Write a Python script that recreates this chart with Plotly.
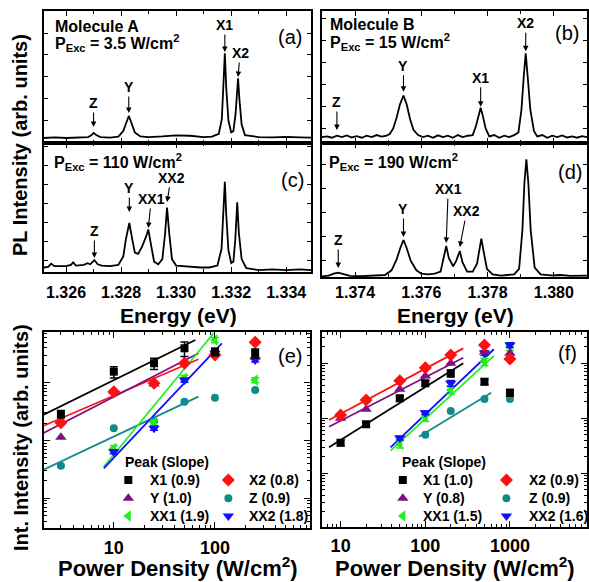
import plotly.graph_objects as go

W, H = 589, 582
FONT = "Liberation Sans"

# ---------------- PL spectra (energy in eV, intensity in arb. units) ----------------
A_ENERGY = [1.3252, 1.3256, 1.3260, 1.3264, 1.3268, 1.32692, 1.32700, 1.32710, 1.32725, 1.3276,
            1.3279, 1.32808, 1.32818, 1.32828, 1.32838, 1.32850, 1.32870, 1.3290, 1.3295, 1.3300,
            1.3305, 1.3310, 1.3313, 1.33155, 1.33166, 1.33172, 1.33177, 1.33182, 1.33190, 1.33200,
            1.33208, 1.33216, 1.33221, 1.33225, 1.33230, 1.33238, 1.33250, 1.3330, 1.3335, 1.3340,
            1.3345, 1.3349]
A_INTENSITY = [0.038, 0.042, 0.038, 0.040, 0.045, 0.058, 0.076, 0.060, 0.045, 0.040,
               0.048, 0.090, 0.150, 0.205, 0.150, 0.080, 0.050, 0.045, 0.050, 0.058,
               0.055, 0.045, 0.048, 0.070, 0.180, 0.420, 0.680, 0.420, 0.170, 0.080,
               0.090, 0.220, 0.380, 0.490, 0.330, 0.140, 0.060, 0.045, 0.042, 0.046,
               0.042, 0.040]

B_ENERGY = [1.37300, 1.37315, 1.37330, 1.37345, 1.37360, 1.37375, 1.37390, 1.37405, 1.37420, 1.37435,
            1.37450, 1.37465, 1.37480, 1.37495, 1.37505, 1.37515, 1.37525, 1.37535, 1.37546, 1.37556,
            1.37566, 1.37576, 1.37590, 1.37605, 1.37620, 1.37635, 1.37650, 1.37665, 1.37680, 1.37695,
            1.37710, 1.37725, 1.37740, 1.37755, 1.37765, 1.37772, 1.37779, 1.37786, 1.37794, 1.37805,
            1.37820, 1.37835, 1.37850, 1.37865, 1.37880, 1.37893, 1.37902, 1.37909, 1.37915, 1.37921,
            1.37929, 1.37940, 1.37950, 1.37965, 1.37980, 1.37995, 1.38010, 1.38025, 1.38040, 1.38055,
            1.38070, 1.38085, 1.38100]
B_INTENSITY = [0.045, 0.050, 0.040, 0.055, 0.045, 0.058, 0.042, 0.052, 0.040, 0.055,
               0.045, 0.060, 0.048, 0.055, 0.070, 0.110, 0.190, 0.290, 0.360, 0.290,
               0.180, 0.100, 0.060, 0.045, 0.055, 0.040, 0.058, 0.045, 0.055, 0.040,
               0.060, 0.045, 0.055, 0.060, 0.130, 0.200, 0.267, 0.200, 0.110, 0.050,
               0.060, 0.040, 0.055, 0.045, 0.060, 0.080, 0.250, 0.500, 0.679, 0.500,
               0.250, 0.090, 0.050, 0.060, 0.040, 0.055, 0.045, 0.058, 0.042, 0.050,
               0.040, 0.052, 0.045]

C_ENERGY = [1.3252, 1.32535, 1.32546, 1.32558, 1.3258, 1.3260, 1.32618, 1.32626, 1.32636, 1.32650,
            1.32665, 1.32678, 1.32688, 1.32703, 1.32715, 1.32730, 1.3276, 1.3279, 1.32808, 1.32818,
            1.32830, 1.32840, 1.32850, 1.32862, 1.32877, 1.32890, 1.32899, 1.32908, 1.32920, 1.32935,
            1.32950, 1.32960, 1.32967, 1.32975, 1.32985, 1.3300, 1.3305, 1.3309, 1.3312, 1.3315,
            1.33165, 1.33172, 1.33177, 1.33182, 1.33190, 1.33200, 1.33208, 1.33215, 1.33222, 1.33228,
            1.33238, 1.33255, 1.3330, 1.3335, 1.3340, 1.3345, 1.3349]
C_INTENSITY = [0.035, 0.040, 0.065, 0.045, 0.045, 0.045, 0.055, 0.075, 0.050, 0.050,
               0.055, 0.068, 0.060, 0.093, 0.060, 0.050, 0.045, 0.055, 0.120, 0.260,
               0.380, 0.260, 0.150, 0.140, 0.200, 0.270, 0.330, 0.220, 0.080, 0.060,
               0.100, 0.300, 0.500, 0.300, 0.100, 0.050, 0.040, 0.035, 0.035, 0.050,
               0.180, 0.450, 0.700, 0.450, 0.170, 0.070, 0.080, 0.250, 0.540, 0.300,
               0.100, 0.030, 0.015, 0.020, 0.015, 0.020, 0.015]

D_ENERGY = [1.37300, 1.37320, 1.37335, 1.37349, 1.37365, 1.37385, 1.37420, 1.37460, 1.37490, 1.37510,
            1.37525, 1.37537, 1.37546, 1.37555, 1.37568, 1.37585, 1.37600, 1.37620, 1.37640, 1.37658,
            1.37668, 1.37675, 1.37683, 1.37696, 1.37705, 1.37716, 1.37724, 1.37738, 1.37755, 1.37768,
            1.37775, 1.37781, 1.37788, 1.37798, 1.37815, 1.37840, 1.37860, 1.37880, 1.37895, 1.37905,
            1.37911, 1.37917, 1.37923, 1.37930, 1.37942, 1.37960, 1.37990, 1.38020, 1.38050, 1.38080,
            1.38102]
D_INTENSITY = [0.005, 0.010, 0.025, 0.032, 0.022, 0.008, 0.006, 0.008, 0.015, 0.050,
               0.130, 0.220, 0.276, 0.220, 0.120, 0.050, 0.025, 0.020, 0.025, 0.040,
               0.140, 0.231, 0.140, 0.080, 0.120, 0.194, 0.110, 0.040, 0.040, 0.100,
               0.200, 0.286, 0.190, 0.060, 0.020, 0.010, 0.015, 0.020, 0.060, 0.350,
               0.700, 0.878, 0.700, 0.350, 0.070, 0.020, 0.012, 0.015, 0.008, 0.012,
               0.010]

# peak labels: text, energy, arrow tip intensity, label rise (px), label x shift (px)
A_LABELS = ["Z", "Y", "X1", "X2"]
A_LABEL_E = [1.32700, 1.32828, 1.33177, 1.33225]
A_LABEL_TIP = [0.121, 0.227, 0.690, 0.500]
A_LABEL_RISE = [24, 26, 27, 24]
A_LABEL_SHIFT = [0, 0, 0, 2]

B_LABELS = ["Z", "Y", "X1", "X2"]
B_LABEL_E = [1.37345, 1.37546, 1.37779, 1.37915]
B_LABEL_TIP = [0.099, 0.389, 0.275, 0.695]
B_LABEL_RISE = [28, 26, 29, 28]
B_LABEL_SHIFT = [0, 0, 0, 0]

C_LABELS = ["Z", "Y", "XX1", "XX2"]
C_LABEL_E = [1.32703, 1.32830, 1.32899, 1.32967]
C_LABEL_TIP = [0.109, 0.465, 0.341, 0.543]
C_LABEL_RISE = [27, 24, 29, 24]
C_LABEL_SHIFT = [0, 0, 3, 4]

D_LABELS = ["Z", "Y", "XX1", "XX2"]
D_LABEL_E = [1.37349, 1.37546, 1.37675, 1.37716]
D_LABEL_TIP = [0.067, 0.299, 0.254, 0.224]
D_LABEL_RISE = [28, 28, 54, 36]
D_LABEL_SHIFT = [0, 0, 2, 7]

# ---------------- integrated intensity vs power density ----------------
PEAKS = ["X1", "X2", "Y", "Z", "XX1", "XX2"]

E_POWER = [3, 10, 25, 50, 100, 250]
E_X1 = [28.7, 155, 217, 394, 344, 323]
E_X2 = [20.3, 69.9, 97.6, 217, 301, 500]
E_Y = [11.4, 72.0, 95, 231, 340, 278]
E_Z = [3.67, 16.3, 21.8, 46.9, 55, 74.8]
E_XX1 = [None, 7.3, 20.3, 119, 548, 111]
E_XX2 = [None, 6.4, 16.3, 111, 323, 247]
E_X1_ERR = [15, 22, 22, 28, 15, 18]      # percent
E_XX1_ERR = [0, 12, 10, 12, 10, 10]
E_XX2_ERR = [0, 8, 8, 8, 8, 8]
E_SLOPES = [0.9, 0.8, 1.0, 0.9, 1.9, 1.8]
# fit lines: [x_start, x_end], [y_start, y_end]
E_FIT_X1 = ([2.0, 64], [27.6, 548])
E_FIT_X2 = ([2.0, 68.7], [17.8, 254])
E_FIT_Y = ([2.0, 68.7], [13.3, 323])
E_FIT_Z = ([2.0, 68.7], [3.09, 57.3])
E_FIT_XX1 = ([7.96, 97], [3.52, 716])
E_FIT_XX2 = ([7.96, 117], [3.30, 479])

F_POWER = [10, 20, 50, 100, 200, 500, 1000]
F_X1 = [3.6, 7.8, 23.1, 43.3, 65.8, 46.3, 29.2]
F_X2 = [11.5, 21.5, 48.3, 83.2, 141.6, 215, 119.7]
F_Y = [10, 14.6, 33.7, 58.7, 100, 160, 152]
F_Z = [None, None, None, 5.0, 13.6, 22.4, 22.4]
F_XX1 = [None, None, 3.4, 10.4, 32.7, 107, 200]
F_XX2 = [None, None, 4.4, 12.6, 43.3, 154, 215]
F_X1_ERR = [12, 10, 12, 12, 14, 12, 14]
F_XX1_ERR = [0, 0, 15, 15, 15, 15, 15]
F_XX2_ERR = [0, 0, 8, 8, 12, 10, 10]
F_SLOPES = [1.0, 0.9, 0.8, 0.9, 1.5, 1.6]
F_FIT_X1 = ([7.3, 281], [2.97, 100])
F_FIT_X2 = ([7.3, 281], [9.3, 187])
F_FIT_Y = ([7.3, 281], [7.03, 126.5])
F_FIT_Z = ([84, 601], [4.62, 29.2])
F_FIT_XX1 = ([38.9, 646], [2.58, 136])
F_FIT_XX2 = ([38.9, 646], [2.97, 180])

# ---------------- styles ----------------
SYMBOLS = {"X1": "square", "X2": "diamond", "Y": "triangle-up", "Z": "circle",
           "XX1": "triangle-left", "XX2": "triangle-down"}
COLORS = {"X1": "#000000", "X2": "#ff1010", "Y": "#80107f", "Z": "#128a8a",
          "XX1": "#22ee22", "XX2": "#1010ff"}
SIZES = {"X1": 8, "X2": 10, "Y": 10, "Z": 8, "XX1": 10, "XX2": 10}


def xd(p0, p1):
    return [p0 / W, p1 / W]


def yd(top, bottom):
    return [1 - bottom / H, 1 - top / H]


PA = (44, 311, 11, 143)
PB = (322, 587, 11, 143)
PC = (44, 311, 143, 272)
PD = (322, 587, 143, 277)
PE = (44, 310, 332, 528)
PF = (322, 587, 332, 527)

BOLD = dict(family=FONT, color="black", weight="bold")


def base_axis():
    return dict(showline=True, linewidth=2, linecolor="black", mirror="ticks",
                ticks="inside", tickcolor="black", tickwidth=1.3, showgrid=False,
                zeroline=False)


fig = go.Figure()

# ---- spectra ----
spectra = [(A_ENERGY, A_INTENSITY, "x", "y"), (B_ENERGY, B_INTENSITY, "x2", "y2"),
           (C_ENERGY, C_INTENSITY, "x3", "y3"), (D_ENERGY, D_INTENSITY, "x4", "y4")]
for e, i, xa, ya in spectra:
    fig.add_trace(go.Scatter(x=e, y=i, mode="lines", line=dict(color="black", width=1.8),
                             xaxis=xa, yaxis=ya, showlegend=False, hoverinfo="skip"))

# ---- power dependence ----
E_DATA = {"X1": E_X1, "X2": E_X2, "Y": E_Y, "Z": E_Z, "XX1": E_XX1, "XX2": E_XX2}
E_ERR = {"X1": E_X1_ERR, "XX1": E_XX1_ERR, "XX2": E_XX2_ERR}
E_FITS = {"X1": E_FIT_X1, "X2": E_FIT_X2, "Y": E_FIT_Y, "Z": E_FIT_Z, "XX1": E_FIT_XX1, "XX2": E_FIT_XX2}
F_DATA = {"X1": F_X1, "X2": F_X2, "Y": F_Y, "Z": F_Z, "XX1": F_XX1, "XX2": F_XX2}
F_ERR = {"X1": F_X1_ERR, "XX1": F_XX1_ERR, "XX2": F_XX2_ERR}
F_FITS = {"X1": F_FIT_X1, "X2": F_FIT_X2, "Y": F_FIT_Y, "Z": F_FIT_Z, "XX1": F_FIT_XX1, "XX2": F_FIT_XX2}

for power, data, errs, fits, xa, ya in [(E_POWER, E_DATA, E_ERR, E_FITS, "x5", "y5"),
                                        (F_POWER, F_DATA, F_ERR, F_FITS, "x6", "y6")]:
    for p in PEAKS:
        fx, fy = fits[p]
        fig.add_trace(go.Scatter(x=fx, y=fy, mode="lines", line=dict(color=COLORS[p], width=1.8),
                                 xaxis=xa, yaxis=ya, showlegend=False, hoverinfo="skip"))
    for p in ["Z", "XX1", "XX2", "Y", "X2", "X1"]:
        vals = data[p]
        err = None
        if p in errs:
            arr = [(v * pc / 100.0 if v is not None else 0) for v, pc in zip(vals, errs[p])]
            err = dict(type="data", array=arr, color=COLORS[p], thickness=1.5, width=4)
        fig.add_trace(go.Scatter(x=power, y=vals, mode="markers",
                                 marker=dict(symbol=SYMBOLS[p], color=COLORS[p], size=SIZES[p],
                                             line=dict(width=0)),
                                 error_y=err, xaxis=xa, yaxis=ya, showlegend=False))

# ---- custom two-column legends (overlay axes with unit range) ----
annotations = []
for slopes, xa, ya, dom, col_m, col_t, rows, title_pos in [
        (E_SLOPES, "x7", "y7", "x5", (0.317, 0.693), (0.392, 0.762), (0.245, 0.152, 0.061), (0.296, 0.338)),
        (F_SLOPES, "x8", "y8", "x6", (0.305, 0.696), (0.373, 0.772), (0.241, 0.147, 0.056), (0.294, 0.335))]:
    for k, p in enumerate(PEAKS):
        c, r = k % 2, k // 2
        fig.add_trace(go.Scatter(x=[col_m[c]], y=[rows[r]], mode="markers",
                                 marker=dict(symbol=SYMBOLS[p], color=COLORS[p], size=SIZES[p]),
                                 xaxis=xa, yaxis=ya, showlegend=False, hoverinfo="skip"))
        annotations.append(dict(text=f"{p} ({slopes[k]:.1f})", x=col_t[c], y=rows[r],
                                xref=f"{dom} domain", yref=f"y{dom[1:]} domain",
                                xanchor="left", yanchor="middle", showarrow=False,
                                font=dict(size=14, **BOLD)))
    annotations.append(dict(text="Peak (Slope)", x=title_pos[0], y=title_pos[1],
                            xref=f"{dom} domain", yref=f"y{dom[1:]} domain",
                            xanchor="left", yanchor="middle", showarrow=False,
                            font=dict(size=14, **BOLD)))

# ---- peak labels with arrows ----
for labels, es, tips, rises, shifts, xa, ya in [
        (A_LABELS, A_LABEL_E, A_LABEL_TIP, A_LABEL_RISE, A_LABEL_SHIFT, "x", "y"),
        (B_LABELS, B_LABEL_E, B_LABEL_TIP, B_LABEL_RISE, B_LABEL_SHIFT, "x2", "y2"),
        (C_LABELS, C_LABEL_E, C_LABEL_TIP, C_LABEL_RISE, C_LABEL_SHIFT, "x3", "y3"),
        (D_LABELS, D_LABEL_E, D_LABEL_TIP, D_LABEL_RISE, D_LABEL_SHIFT, "x4", "y4")]:
    for t, e, tip, rise, sh in zip(labels, es, tips, rises, shifts):
        annotations.append(dict(text=t, x=e, y=tip, xref=xa, yref=ya, ax=sh, ay=-rise,
                                showarrow=True, arrowhead=2, arrowsize=1.0, arrowwidth=1.1,
                                arrowcolor="black", standoff=0, font=dict(size=14, **BOLD)))

# ---- panel texts ----
def ptxt(text, x, y, xa, size=16, anchor="left", bold=True):
    f = dict(size=size, **BOLD) if bold else dict(size=size, family=FONT, color="black")
    annotations.append(dict(text=text, x=x, y=y, xref=f"{xa} domain",
                            yref=f"y{xa[1:]} domain", xanchor=anchor, yanchor="middle",
                            showarrow=False, font=f))


ptxt("Molecule A", 0.034, 0.879, "x")
ptxt("P<sub>Exc</sub> = 3.5 W/cm<sup>2</sup>", 0.034, 0.755, "x")
ptxt("Molecule B", 0.023, 0.900, "x2")
ptxt("P<sub>Exc</sub> = 15 W/cm<sup>2</sup>", 0.023, 0.765, "x2")
ptxt("P<sub>Exc</sub> = 110 W/cm<sup>2</sup>", 0.030, 0.855, "x3")
ptxt("P<sub>Exc</sub> = 190 W/cm<sup>2</sup>", 0.019, 0.855, "x4")
ptxt("(a)", 0.921, 0.803, "x", 20, "center", False)
ptxt("(b)", 0.925, 0.832, "x2", 20, "center", False)
ptxt("(c)", 0.929, 0.713, "x3", 20, "center", False)
ptxt("(d)", 0.936, 0.784, "x4", 20, "center", False)
ptxt("(e)", 0.925, 0.878, "x5", 20, "center", False)
ptxt("(f)", 0.925, 0.892, "x6", 20, "center", False)

# ---- axis titles ----
def gtxt(text, px, py, size, angle=0):
    annotations.append(dict(text=text, x=px / W, y=1 - py / H, xref="paper", yref="paper",
                            xanchor="center", yanchor="middle", showarrow=False,
                            textangle=angle, font=dict(size=size, **BOLD)))


gtxt("PL Intensity (arb. units)", 20, 145, 20, -90)
gtxt("Int. Intensity (arb. units)", 21, 438, 20, -90)
gtxt("Energy (eV)", 178, 315, 21)
gtxt("Energy (eV)", 455, 315, 21)
gtxt("Power Density (W/cm<sup>2</sup>)", 178, 567, 22)
gtxt("Power Density (W/cm<sup>2</sup>)", 455, 567, 22)

# ---- axes ----
layout = dict(width=W, height=H, margin=dict(l=0, r=0, t=0, b=0),
              paper_bgcolor="white", plot_bgcolor="rgba(0,0,0,0)",
              showlegend=False, annotations=annotations)


def spec_x(panel, rng, t0, labels, anchor, standoff):
    d = base_axis()
    d.update(domain=xd(panel[0], panel[1]), range=rng, anchor=anchor, tick0=t0, dtick=0.002,
             tickformat=".3f", ticklen=5, showticklabels=labels,
             tickfont=dict(size=16, **BOLD), ticklabelstandoff=standoff,
             minor=dict(dtick=0.001, tick0=t0, ticks="inside", ticklen=3, tickwidth=1.2,
                        tickcolor="black", showgrid=False))
    return d


def spec_y(panel, t0, dt, anchor):
    d = base_axis()
    d.update(domain=yd(panel[2], panel[3]), range=[0, 1], anchor=anchor, tick0=t0, dtick=dt,
             ticklen=4, showticklabels=False)
    return d


layout["xaxis"] = spec_x(PA, [1.3252, 1.3349], 1.326, False, "y", 0)
layout["yaxis"] = spec_y(PA, 0.008, 0.165, "x")
layout["xaxis2"] = spec_x(PB, [1.3730, 1.3810], 1.374, False, "y2", 0)
layout["yaxis2"] = spec_y(PB, 0.112, 0.166, "x2")
layout["xaxis3"] = spec_x(PC, [1.3252, 1.3349], 1.326, True, "y3", 5)
layout["yaxis3"] = spec_y(PC, 0.093, 0.147, "x3")
layout["xaxis4"] = spec_x(PD, [1.3730, 1.3810], 1.374, True, "y4", 0)
layout["yaxis4"] = spec_y(PD, 0.12, 0.18, "x4")

E_XTICKS = [10, 100]
F_XTICKS = [10, 100, 1000]
E_XMINOR = [m * 10 ** k for k in range(0, 3) for m in range(2, 10)]
F_XMINOR = [m * 10 ** k for k in range(0, 4) for m in range(2, 10)]
Y_DECADES = [1, 10, 100]
Y_MINOR = [m * 10 ** k for k in range(-1, 3) for m in range(2, 10)]


def log_x(panel, rng, ticks, minor, anchor, standoff):
    d = base_axis()
    d.update(type="log", domain=xd(panel[0], panel[1]), range=rng, anchor=anchor,
             tickmode="array", tickvals=ticks, ticktext=[str(t) for t in ticks], ticklen=6,
             tickfont=dict(size=18, **BOLD), ticklabelstandoff=standoff,
             minor=dict(tickmode="array", tickvals=minor, ticks="inside", ticklen=3,
                        tickwidth=1.1, tickcolor="black", showgrid=False))
    return d


def log_y(panel, rng, anchor):
    d = base_axis()
    d.update(type="log", domain=yd(panel[2], panel[3]), range=rng, anchor=anchor,
             tickmode="array", tickvals=Y_DECADES, ticklen=6, showticklabels=False,
             minor=dict(tickmode="array", tickvals=Y_MINOR, ticks="inside", ticklen=3,
                        tickwidth=1.1, tickcolor="black", showgrid=False))
    return d


layout["xaxis5"] = log_x(PE, [0.31, 2.94], E_XTICKS, E_XMINOR, "y5", 2)
layout["yaxis5"] = log_y(PE, [-0.514, 2.877], "x5")
layout["xaxis6"] = log_x(PF, [0.78, 3.91], F_XTICKS, F_XMINOR, "y6", 1)
layout["yaxis6"] = log_y(PF, [-0.976, 2.569], "x6")

for n, dom in [(7, PE), (8, PF)]:
    layout[f"xaxis{n}"] = dict(domain=xd(dom[0], dom[1]), range=[0, 1], anchor=f"y{n}",
                               visible=False, fixedrange=True)
    layout[f"yaxis{n}"] = dict(domain=yd(dom[2], dom[3]), range=[0, 1], anchor=f"x{n}",
                               visible=False, fixedrange=True)

fig.update_layout(**layout)
fig.write_html("out.html", config={"displayModeBar": False},
               post_script="document.body.style.margin='0';document.body.style.overflow='hidden';")
